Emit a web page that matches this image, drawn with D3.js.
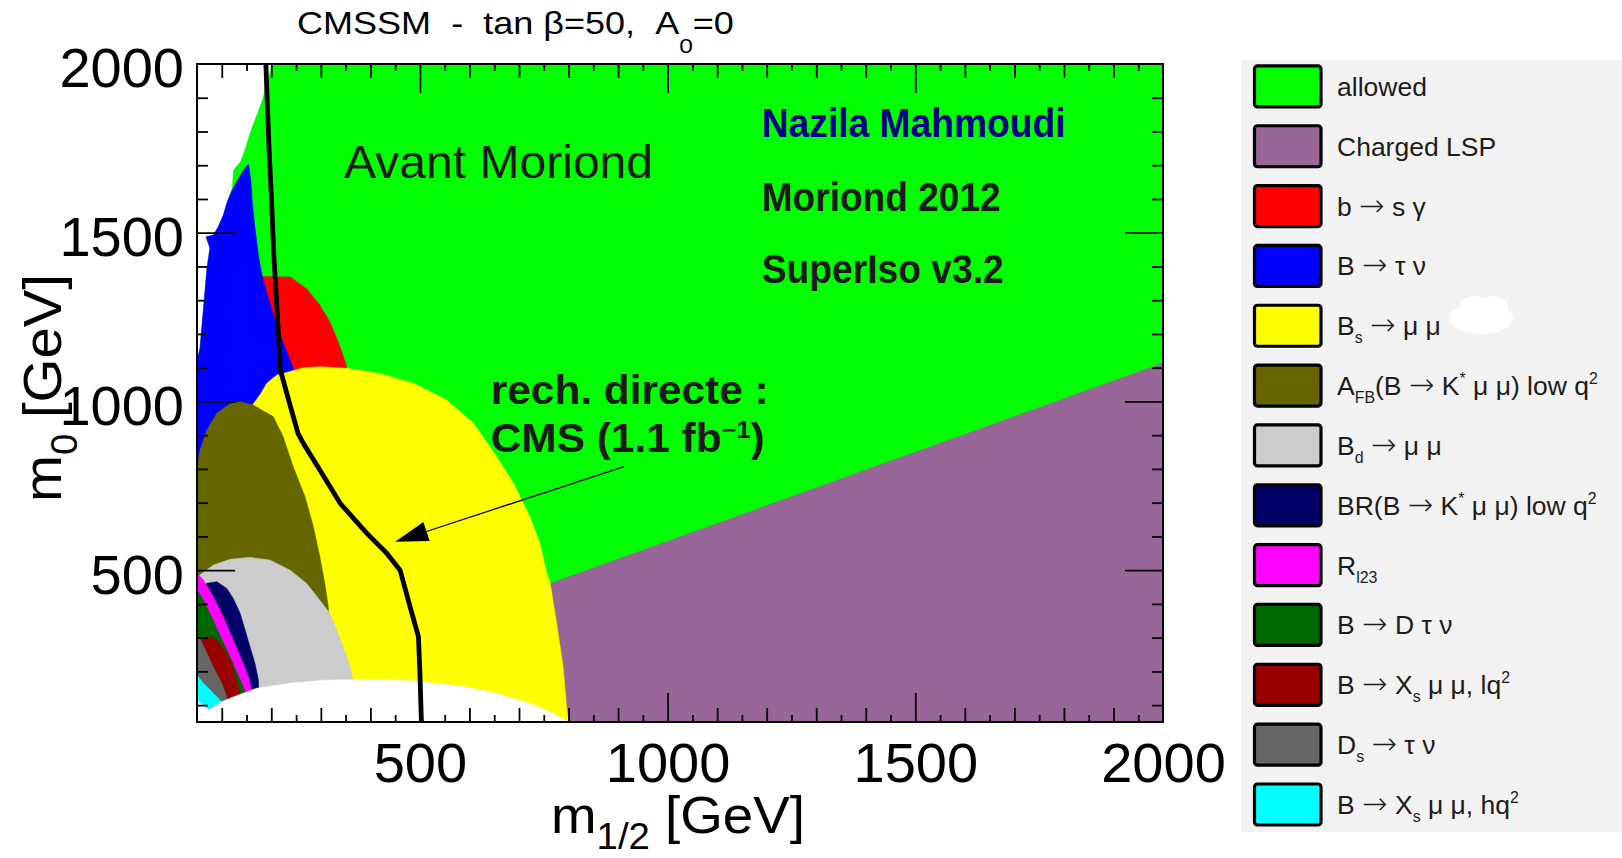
<!DOCTYPE html>
<html>
<head>
<meta charset="utf-8">
<script src="https://cdn.jsdelivr.net/npm/d3@7"></script>
<style>
  html, body { margin: 0; padding: 0; background: #ffffff; }
  svg { display: block; }
  text { font-family: "Liberation Sans", Arial, Helvetica, sans-serif; white-space: pre; }
</style>
</head>
<body>
<svg id="chart" width="1622" height="858"></svg>
<script>
// ---- axis ranges and labels (GeV) ----
const m12Domain = [50, 2000];
const m0Domain = [50, 2000];
const xTickLabels = [500, 1000, 1500, 2000];
const yTickLabels = [500, 1000, 1500, 2000];

// ---- legend ----
const categories = [
  "allowed",
  "Charged LSP",
  "b → s γ",
  "B → τ ν",
  "B_{s} → μ μ",
  "A_{FB}(B → K^{*} μ μ) low q^{2}",
  "B_{d} → μ μ",
  "BR(B → K^{*} μ μ) low q^{2}",
  "R_{l23}",
  "B → D τ ν",
  "B → X_{s} μ μ, lq^{2}",
  "D_{s} → τ ν",
  "B → X_{s} μ μ, hq^{2}"
];
const colors = ["#00ff00", "#996699", "#ff0000", "#0000ff", "#ffff00", "#666600",
                "#cccccc", "#000066", "#ff00ff", "#006600", "#990000", "#666666", "#00ffff"];

// ---- region contours in the (m1/2, m0) plane, GeV ----
const allowedRegion = [[50,50],[2000,50],[2000,2000],[50,2000]];
const chargedLSP = [[700,427],[2000,1114],[2000,50],[700,50]];
const noSolutionTop = [[50,2000],[201,2000],[181,1893],[170,1849],[157,1799],[147,1751],[137,1710],
  [123,1686],[120,1632],[113,1603],[103,1552],[93,1518],[83,1493],[68,1488],[76,1455],[70,1395],
  [63,1277],[56,1158],[50,1120]];
const bsgamma = [[157,1330],[181,1370],[238,1369],[271,1335],[298,1286],[318,1236],[335,1177],
  [349,1118],[355,1087],[355,1000],[177,1000]];
const btaunu = [[154,1703],[159,1651],[162,1582],[167,1514],[174,1434],[181,1375],[194,1306],
  [211,1226],[231,1147],[244,1099],[258,1019],[157,975],[50,767],[50,1120],[56,1158],[63,1277],
  [70,1395],[76,1455],[68,1488],[83,1493],[93,1518],[103,1552],[111,1592],[120,1622],[130,1651],[144,1686]];
const bsmumu = [[50,50],[50,700],[150,960],[164,994],[177,1019],[191,1054],[211,1078],[224,1083],
  [265,1100],[298,1103],[352,1098],[419,1083],[487,1054],[554,1004],[608,935],[655,836],[689,757],
  [722,658],[742,580],[756,491],[763,461],[776,342],[789,214],[796,95],[800,50]];
const afb = [[50,293],[50,797],[56,856],[70,915],[90,965],[117,994],[137,999],[164,989],[204,955],
  [224,895],[244,807],[268,718],[285,629],[298,540],[308,461],[315,392],[318,293]];
const bdmumu = [[50,100],[50,471],[56,486],[83,515],[117,532],[157,538],[197,530],[238,500],[271,461],
  [298,411],[318,372],[332,323],[345,273],[359,214],[365,174],[371,100]];
const brKstar = [[50,115],[50,440],[70,461],[90,466],[110,446],[123,417],[137,372],[147,323],[157,273],
  [167,224],[174,174],[175,115]];
const rl23 = [[50,115],[50,491],[63,471],[83,421],[103,362],[123,293],[143,224],[156,174],[160,145],[163,115]];
const bdtaunu = [[50,115],[50,441],[59,421],[76,372],[96,308],[117,243],[133,189],[143,155],[147,140],[149,115]];
const xsLow = [[50,100],[50,299],[56,298],[73,303],[90,293],[106,263],[120,224],[130,174],[137,135],[139,100]];
const dstaunu = [[50,100],[50,300],[56,298],[70,254],[86,204],[100,165],[110,125],[111,100]];
const xsHigh = [[50,80],[50,189],[63,165],[83,135],[100,110],[101,80]];
const noSolutionBottom = [[50,50],[50,115],[73,86],[100,110],[123,124],[170,150],[238,165],[305,174],
  [399,176],[487,172],[588,155],[655,135],[722,105],[769,76],[800,50]];

// CMS 1.1 fb^-1 exclusion contour
const cmsLimit = [[189,2000],[192,1880],[196,1730],[201,1580],[205,1435],[211,1285],[216,1160],
  [218,1095],[231,1025],[254,905],[265,875],[298,797],[339,698],[393,609],[433,550],[460,500],
  [480,392],[497,303],[500,194],[503,50]];

// arrow from the CMS label to the contour (GeV)
const arrowFrom = [912, 807];
const arrowTo = [450, 584];

// ---- drawing ----
const svg = d3.select("#chart");
const x = d3.scaleLinear().domain(m12Domain).range([197, 1163]);
const y = d3.scaleLinear().domain(m0Domain).range([722, 64]);
const line = d3.line().x(d => x(d[0])).y(d => y(d[1]));

// painter's order: later layers cover earlier ones
const layers = [
  { pts: allowedRegion, color: colors[0] },
  { pts: chargedLSP, color: colors[1] },
  { pts: noSolutionTop, color: "#ffffff" },
  { pts: bsgamma, color: colors[2] },
  { pts: btaunu, color: colors[3] },
  { pts: bsmumu, color: colors[4] },
  { pts: afb, color: colors[5] },
  { pts: bdmumu, color: colors[6] },
  { pts: brKstar, color: colors[7] },
  { pts: rl23, color: colors[8] },
  { pts: bdtaunu, color: colors[9] },
  { pts: xsLow, color: colors[10] },
  { pts: dstaunu, color: colors[11] },
  { pts: xsHigh, color: colors[12] },
  { pts: noSolutionBottom, color: "#ffffff" }
];

svg.append("defs").append("clipPath").attr("id", "plotClip")
  .append("rect")
  .attr("x", x(m12Domain[0])).attr("y", y(m0Domain[1]))
  .attr("width", x(m12Domain[1]) - x(m12Domain[0]))
  .attr("height", y(m0Domain[0]) - y(m0Domain[1]));

const plot = svg.append("g").attr("clip-path", "url(#plotClip)");
plot.selectAll("path.region").data(layers).join("path")
  .attr("class", "region")
  .attr("d", d => line(d.pts) + "Z")
  .attr("fill", d => d.color)
  .attr("stroke", d => d.color)
  .attr("stroke-width", 0.5);

plot.append("path")
  .attr("d", line(cmsLimit))
  .attr("fill", "none")
  .attr("stroke", "#000")
  .attr("stroke-width", 4.8)
  .attr("stroke-linejoin", "round");

// arrow
(function () {
  const tip = [x(arrowTo[0]), y(arrowTo[1])];
  const st = [x(arrowFrom[0]), y(arrowFrom[1])];
  const dx = st[0] - tip[0], dy = st[1] - tip[1];
  const L = Math.hypot(dx, dy), ux = dx / L, uy = dy / L;
  const hl = 33, hw = 10;
  const bx = tip[0] + ux * hl, by = tip[1] + uy * hl;
  svg.append("line")
    .attr("x1", st[0]).attr("y1", st[1]).attr("x2", bx).attr("y2", by)
    .attr("stroke", "#000").attr("stroke-width", 1.3);
  svg.append("path")
    .attr("d", `M${tip[0]},${tip[1]}L${bx - uy * hw},${by + ux * hw}L${bx + uy * hw},${by - ux * hw}Z`)
    .attr("fill", "#000");
})();

// ---- text helpers ----
// _{...} subscript, ^{...} superscript; arrows are set in DejaVu Sans
function rich(sel, str, size, o = {}) {
  const subScale = o.subScale || 0.62;
  const subShift = o.subShift != null ? o.subShift : 0.3;
  const supShift = o.supShift != null ? o.supShift : 0.45;
  const re = /([_^])\{([^}]*)\}/g;
  let last = 0, m, off = 0;
  const add = (t, kind) => {
    const pieces = kind ? [t] : t.split(/(→)/).filter(s => s.length);
    pieces.forEach((p, j) => {
      const ts = sel.append("tspan").text(p);
      let target = 0;
      if (kind === "_") { target = subShift * size; ts.attr("font-size", size * subScale); }
      else if (kind === "^") { target = -supShift * size; ts.attr("font-size", size * subScale); }
      if (p === "→") {
        ts.attr("font-family", "DejaVu Sans, sans-serif").attr("font-size", size * (o.arrowScale || 1.1))
          .attr("font-weight", "200");
      }
      ts.attr("dy", target - off);
      off = target;
    });
  };
  while ((m = re.exec(str))) {
    if (m.index > last) add(str.slice(last, m.index), "");
    add(m[2], m[1]);
    last = re.lastIndex;
  }
  if (last < str.length) add(str.slice(last), "");
  return sel;
}
function fit(sel, width) {
  const w = sel.node().getComputedTextLength();
  const k = width / w;
  const ax = +sel.attr("x") || 0;
  const prev = sel.attr("transform") || "";
  sel.attr("transform", `${prev} translate(${ax},0) scale(${k},1) translate(${-ax},0)`);
}

// annotations inside the plot
function label(str, pos, size, width, weight, color) {
  const t = svg.append("text")
    .attr("x", x(pos[0])).attr("y", y(pos[1]))
    .attr("font-size", size).attr("font-weight", weight).attr("fill", color);
  rich(t, str, size, { subScale: 0.6, supShift: 0.36 });
  fit(t, width);
}
label("Avant Moriond", [347, 1661], 46, 309, "normal", "#1a1a1a");
label("Nazila Mahmoudi", [1190, 1785], 40, 304, "bold", "#000088");
label("Moriond 2012", [1190, 1564], 40, 239, "bold", "#1a1a1a");
label("SuperIso v3.2", [1190, 1350], 40, 242, "bold", "#1a1a1a");
label("rech. directe :", [643, 991], 40, 278, "bold", "#1a1a1a");
label("CMS (1.1 fb^{−1})", [643, 850], 40, 274, "bold", "#1a1a1a");

// ---- axes ----
const tickGroups = [
  { vals: d3.range(100, 2000, 100).filter(v => v % 500), len: 14 },
  { vals: d3.range(150, 2000, 100), len: 7 },
  { vals: [500, 1000, 1500], len: 29 }
];
const yTickGroups = [
  { vals: d3.range(100, 2000, 100).filter(v => v % 500), len: 11 },
  { vals: [500, 1000, 1500], len: 38 }
];
const tickStyle = g => {
  g.select(".domain").remove();
  g.selectAll("line").attr("stroke", "#000").attr("stroke-width", 1.8);
};
tickGroups.forEach(tg => {
  svg.append("g").attr("transform", `translate(0,${y(m0Domain[0])})`)
    .call(d3.axisBottom(x).tickValues(tg.vals).tickSize(-tg.len).tickFormat(""))
    .call(tickStyle);
  svg.append("g").attr("transform", `translate(0,${y(m0Domain[1])})`)
    .call(d3.axisTop(x).tickValues(tg.vals).tickSize(-tg.len).tickFormat(""))
    .call(tickStyle);
});
yTickGroups.forEach(tg => {
  svg.append("g").attr("transform", `translate(${x(m12Domain[0])},0)`)
    .call(d3.axisLeft(y).tickValues(tg.vals).tickSize(-tg.len).tickFormat(""))
    .call(tickStyle);
  svg.append("g").attr("transform", `translate(${x(m12Domain[1])},0)`)
    .call(d3.axisRight(y).tickValues(tg.vals).tickSize(-tg.len).tickFormat(""))
    .call(tickStyle);
});

// frame
svg.append("rect")
  .attr("x", x(m12Domain[0])).attr("y", y(m0Domain[1]))
  .attr("width", x(m12Domain[1]) - x(m12Domain[0]))
  .attr("height", y(m0Domain[0]) - y(m0Domain[1]))
  .attr("fill", "none").attr("stroke", "#000").attr("stroke-width", 2);

// tick labels
const xLab = svg.append("g").attr("transform", `translate(0,${y(m0Domain[0])})`)
  .call(d3.axisBottom(x).tickValues(xTickLabels).tickSize(0).tickPadding(20).tickFormat(d3.format("d")));
xLab.select(".domain").remove();
xLab.selectAll("text").attr("font-size", 56).attr("fill", "#000")
  .attr("font-family", "Liberation Sans, Arial, sans-serif");

const yLab = svg.append("g").attr("transform", `translate(${x(m12Domain[0])},0)`)
  .call(d3.axisLeft(y).tickValues(yTickLabels).tickSize(0).tickPadding(13).tickFormat(d3.format("d")));
yLab.select(".domain").remove();
yLab.selectAll("text").attr("font-size", 56).attr("fill", "#000").attr("dy", "0.41em")
  .attr("font-family", "Liberation Sans, Arial, sans-serif");

// axis titles
const xt = svg.append("text").attr("x", 678).attr("y", 833)
  .attr("text-anchor", "middle").attr("font-size", 52).attr("fill", "#000");
rich(xt, "m_{1/2} [GeV]", 52, { subScale: 0.7, subShift: 0.3 });
fit(xt, 254);

const ytG = svg.append("g").attr("transform", "translate(61,388) rotate(-90)");
const yt = ytG.append("text").attr("x", 0).attr("y", 0)
  .attr("text-anchor", "middle").attr("font-size", 54).attr("fill", "#000");
rich(yt, "m_{0} [GeV]", 54, { subScale: 0.68, subShift: 0.3 });
fit(yt, 228);

// title
const tt = svg.append("text").attr("x", 297).attr("y", 34)
  .attr("font-size", 31).attr("fill", "#000");
rich(tt, "CMSSM  -  tan β=50,  A_{0}=0", 31, { subScale: 0.68, subShift: 0.62 });
fit(tt, 437);

// ---- legend ----
const legend = svg.append("g");
legend.append("rect").attr("x", 1241).attr("y", 60).attr("width", 381).attr("height", 772)
  .attr("fill", "#f2f2f2");
const rowY = d3.scalePoint().domain(d3.range(categories.length)).range([86.4, 804.5]);
const rows = legend.selectAll("g.row").data(categories).join("g")
  .attr("class", "row")
  .attr("transform", (d, i) => `translate(0,${rowY(i)})`);
rows.append("rect")
  .attr("x", 1254.5).attr("y", -20.5).attr("width", 66.5).attr("height", 41)
  .attr("rx", 3).attr("ry", 3)
  .attr("fill", (d, i) => colors[i]).attr("stroke", "#000").attr("stroke-width", 3.2);
rows.append("text")
  .attr("x", 1337).attr("y", 9.5)
  .attr("font-size", 26.5).attr("fill", "#1c1c1c")
  .each(function (d) { rich(d3.select(this), d, 26.5, { subScale: 0.6, subShift: 0.3, supShift: 0.42, arrowScale: 1.15 }); });

// white patch next to the B_s entry
const blob = legend.append("g").attr("fill", "#ffffff");
blob.append("ellipse").attr("cx", 1481).attr("cy", 318).attr("rx", 32).attr("ry", 16);
blob.append("ellipse").attr("cx", 1474).attr("cy", 306).attr("rx", 14).attr("ry", 10);
blob.append("ellipse").attr("cx", 1493).attr("cy", 307).attr("rx", 15).attr("ry", 11);
</script>
</body>
</html>
